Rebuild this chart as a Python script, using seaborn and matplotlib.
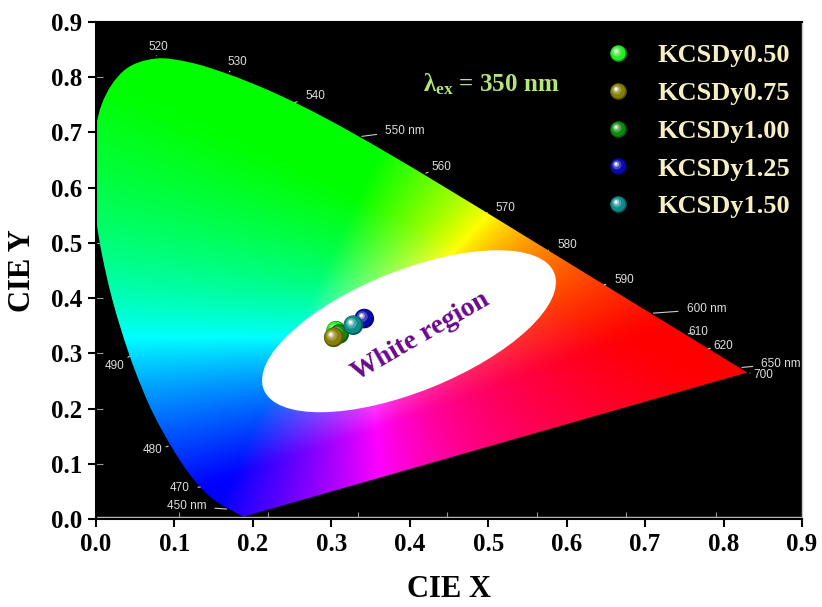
import numpy as np
import pandas as pd
import matplotlib
matplotlib.use("Agg")
import matplotlib.pyplot as plt
import seaborn as sns
from matplotlib.patches import PathPatch, Ellipse
from matplotlib.path import Path
from matplotlib.lines import Line2D
from matplotlib.markers import MarkerStyle
from matplotlib.transforms import Affine2D, ScaledTranslation

# ---- chromaticity data -------------------------------------------------
samples = ["KCSDy0.50", "KCSDy0.75", "KCSDy1.00", "KCSDy1.25", "KCSDy1.50"]
cie_x = [0.306, 0.303, 0.310, 0.342, 0.328]
cie_y = [0.341, 0.329, 0.335, 0.363, 0.351]
sample_colors = ["#22ee22", "#857f05", "#0d8a0d", "#0a0ab0", "#0b8b8b"]
draw_order = ["KCSDy0.50", "KCSDy1.00", "KCSDy0.75", "KCSDy1.25", "KCSDy1.50"]

# CIE 1931 2-degree spectral locus (nm, x, y)
wavelengths = [380, 390, 400, 410, 420, 425, 430, 435, 440, 445, 450, 455, 460,
               465, 470, 475, 480, 485, 490, 495, 500, 505, 510, 515, 520, 525,
               530, 535, 540, 545, 550, 555, 560, 565, 570, 575, 580, 585, 590,
               595, 600, 605, 610, 615, 620, 625, 630, 635, 640, 645, 650, 660,
               670, 680, 700]
locus_x = [0.1741, 0.1738, 0.1733, 0.1726, 0.1714, 0.1703, 0.1689, 0.1669,
           0.1644, 0.1611, 0.1566, 0.1510, 0.1440, 0.1355, 0.1241, 0.1096,
           0.0913, 0.0687, 0.0454, 0.0235, 0.0082, 0.0039, 0.0139, 0.0389,
           0.0743, 0.1142, 0.1547, 0.1929, 0.2296, 0.2658, 0.3016, 0.3373,
           0.3731, 0.4087, 0.4441, 0.4788, 0.5125, 0.5448, 0.5752, 0.6029,
           0.6270, 0.6482, 0.6658, 0.6801, 0.6915, 0.7006, 0.7079, 0.7140,
           0.7190, 0.7230, 0.7260, 0.7300, 0.7320, 0.7334, 0.7347]
locus_y = [0.0050, 0.0049, 0.0048, 0.0048, 0.0051, 0.0058, 0.0069, 0.0086,
           0.0109, 0.0138, 0.0177, 0.0227, 0.0297, 0.0399, 0.0578, 0.0868,
           0.1327, 0.2007, 0.2950, 0.4127, 0.5384, 0.6548, 0.7502, 0.8120,
           0.8338, 0.8262, 0.8059, 0.7816, 0.7543, 0.7243, 0.6923, 0.6589,
           0.6245, 0.5896, 0.5547, 0.5202, 0.4866, 0.4544, 0.4242, 0.3965,
           0.3725, 0.3514, 0.3340, 0.3197, 0.3083, 0.2993, 0.2920, 0.2859,
           0.2809, 0.2770, 0.2740, 0.2700, 0.2680, 0.2666, 0.2653]

# wavelength labels on the locus: text, offset of the label in pixels
locus_labels = {
    450: ("450 nm", -43, 3), 470: ("470", -21, -1), 480: ("480", -18, -4),
    490: ("490", -15, -10), 520: ("520", 3, 12), 530: ("530", 10, 12),
    540: ("540", 21, 6), 550: ("550 nm", 46, 6), 560: ("560", 18, 7),
    570: ("570", 19, 5), 580: ("580", 19, 5), 590: ("590", 20, 5),
    600: ("600 nm", 56, 4), 610: ("610", 13, 3), 620: ("620", 15, 3),
    650: ("650 nm", 42, 4), 700: ("700", 16, -3),
}

# the diagram artwork is horizontally stretched relative to the axes
STRETCH, SHIFT = 1.1417, -0.0088


def to_axes_x(x):
    return STRETCH * np.asarray(x) + SHIFT


def smooth_closed_path(pts):
    """Catmull-Rom curve through the locus, closed by the straight purple line."""
    p = np.vstack([pts[0], pts, pts[-1]])
    verts = [pts[0]]
    codes = [Path.MOVETO]
    for i in range(1, len(p) - 2):
        c1 = p[i] + (p[i + 1] - p[i - 1]) / 6.0
        c2 = p[i + 1] - (p[i + 2] - p[i]) / 6.0
        verts += [c1, c2, p[i + 1]]
        codes += [Path.CURVE4] * 3
    verts += [pts[0], pts[0]]
    codes += [Path.LINETO, Path.CLOSEPOLY]
    return Path(np.array(verts), codes)


sns.set_theme(style="white")
plt.rcParams["font.family"] = ["Liberation Serif", "DejaVu Serif"]
plt.rcParams["font.weight"] = "bold"
plt.rcParams["text.color"] = "black"
plt.rcParams["axes.labelcolor"] = "black"
plt.rcParams["xtick.color"] = "black"
plt.rcParams["ytick.color"] = "black"
plt.rcParams["mathtext.fontset"] = "custom"
plt.rcParams["mathtext.rm"] = "Liberation Serif:bold"
plt.rcParams["mathtext.it"] = "Liberation Serif:bold"
plt.rcParams["mathtext.bf"] = "Liberation Serif:bold"

fig = plt.figure(figsize=(8.22, 6.07), dpi=100)
ax = fig.add_axes([96 / 822, 1 - 519 / 607, 706 / 822, 497 / 607])
ax.set_facecolor("black")
ax.set_xlim(0, 0.9)
ax.set_ylim(0, 0.9)

# ---- colour-filled horseshoe ------------------------------------------
n = 700
gx = np.linspace(0, 0.9, n)
gy = np.linspace(0, 0.9, n)
XX, YY = np.meshgrid(gx, gy)
tx = (XX - SHIFT) / STRETCH
ty = np.clip(YY, 1e-4, None)
X = tx / ty
Y = np.ones_like(ty)
Z = (1 - tx - ty) / ty
M = np.array([[3.2406, -1.5372, -0.4986],
              [-0.9689, 1.8758, 0.0415],
              [0.0557, -0.2040, 1.0570]])
rgb = np.einsum("ij,jkl->kli", M, np.stack([X, Y, Z]))
rgb = np.clip(rgb, 0, None)
rgb = rgb / np.clip(rgb.max(axis=2, keepdims=True), 1e-9, None)
rgb = rgb ** 2.0  # punchier, more saturated rendering
rgb = np.where(rgb <= 0.0031308, 12.92 * rgb, 1.055 * rgb ** (1 / 2.4) - 0.055)
rgb = np.clip(rgb, 0, 1)

locus_pts = np.column_stack([to_axes_x(locus_x), locus_y])
horseshoe = PathPatch(smooth_closed_path(locus_pts), transform=ax.transData,
                      facecolor="none", edgecolor="none")
ax.add_patch(horseshoe)
im = ax.imshow(rgb, origin="lower", extent=(0, 0.9, 0, 0.9), aspect="auto",
               interpolation="bilinear", zorder=1)
im.set_clip_path(horseshoe)

# wavelength annotations
for wl, (txt, dx, dy) in locus_labels.items():
    i = wavelengths.index(wl)
    ax.annotate(txt, xy=(to_axes_x(locus_x[i]), locus_y[i]),
                xytext=(dx, dy), textcoords="offset pixels",
                ha="center", va="center", color="#dddddd", fontsize=8.5,
                fontweight="normal", family="Liberation Sans", zorder=2,
                annotation_clip=False, clip_on=True,
                arrowprops=dict(arrowstyle="-", color="#cccccc", lw=0.8,
                                shrinkA=4, shrinkB=2))

# white region ellipse (size given in inches, centred in data space)
ell = Ellipse((0, 0), width=3.13, height=1.21, angle=21.9,
              facecolor="white", edgecolor="none", zorder=3,
              transform=fig.dpi_scale_trans + ScaledTranslation(0.399, 0.340, ax.transData))
ax.add_patch(ell)
ax.text(0.414, 0.331, "White region", color="#6a0a8a", fontsize=20,
        fontweight="bold", rotation=30, ha="center", va="center",
        rotation_mode="anchor", zorder=4)

# ---- sample points drawn as shaded spheres ----------------------------
layers = [  # scale, offset, mix toward white (negative = darker)
    (1.00, 0.00, -0.35),
    (0.88, -0.03, 0.00),
    (0.55, -0.10, 0.25),
    (0.32, -0.13, 0.60),
    (0.16, -0.15, 1.00),
]


def layer_color(c, mix):
    c = np.array(matplotlib.colors.to_rgb(c))
    if mix < 0:
        return tuple(c * (1 + mix))
    return tuple(c * (1 - mix) + mix)


def layer_marker(scale, off):
    return MarkerStyle("o", transform=Affine2D().scale(scale).translate(off, -off))


df = pd.DataFrame({"sample": samples, "x": cie_x, "y": cie_y,
                   "color": sample_colors}).set_index("sample").loc[draw_order]

z = 5
for name, row in df.iterrows():
    for scale, off, mix in layers:
        sns.scatterplot(x=[row["x"]], y=[row["y"]], ax=ax, s=200,
                        color=layer_color(row["color"], mix),
                        marker=layer_marker(scale, off),
                        linewidth=0, edgecolor="none", zorder=z, legend=False)
        z += 1

# legend with the same sphere handles
handles = []
for c in sample_colors:
    handles.append(tuple(
        Line2D([], [], linestyle="none", marker=layer_marker(s_, o_),
               markersize=12, markeredgewidth=0,
               color=layer_color(c, m_))
        for s_, o_, m_ in layers))
leg = ax.legend(handles, samples, loc="upper left",
                bbox_to_anchor=(0.721, 0.956), frameon=False,
                borderpad=0, borderaxespad=0, handlelength=1.0,
                handletextpad=1.0, labelspacing=0.54,
                prop={"family": "Liberation Serif", "weight": "bold", "size": 19})
for t in leg.get_texts():
    t.set_color("#f5efc2")

ax.text(0.504, 0.787, r"$\mathrm{\lambda_{ex}}$ = 350 nm", color="#b5e37d",
        fontsize=18, fontweight="bold", ha="center", va="center", zorder=4)

# ---- axes styling -----------------------------------------------------
ticks = np.round(np.arange(0, 0.91, 0.1), 1)
ax.set_xticks(ticks)
ax.set_yticks(ticks)
ax.set_xticklabels([f"{t:.1f}" for t in ticks], fontweight="bold", fontsize=18)
ax.set_yticklabels([f"{t:.1f}" for t in ticks], fontweight="bold", fontsize=18)
ax.tick_params(axis="both", which="major", direction="out", length=6, width=1.5,
               color="black", labelcolor="black", pad=4, bottom=True, left=True)
# inner ticks belonging to the diagram artwork
ax.set_xticks(to_axes_x(np.arange(0.1, 0.75, 0.1)), minor=True)
ax.set_yticks(np.arange(0.1, 0.85, 0.1), minor=True)
ax.yaxis.remove_overlapping_locs = False
ax.tick_params(which="minor", direction="in", length=5, width=0.8,
               color="#9a9a9a", bottom=True, left=True)
ax.axhline(0.004, color="#bdbdbd", lw=1.0, zorder=2)

for side, sp in ax.spines.items():
    sp.set_color("black")
    sp.set_linewidth(1.5)
ax.spines["right"].set_color("#c8c8c8")
ax.spines["right"].set_linewidth(1.0)

ax.set_xlabel("CIE X", fontsize=22, fontweight="bold", labelpad=14, color="black")
ax.set_ylabel("CIE Y", fontsize=22, fontweight="bold", labelpad=10, color="black")

fig.savefig("out.png", dpi=100, facecolor="white")
